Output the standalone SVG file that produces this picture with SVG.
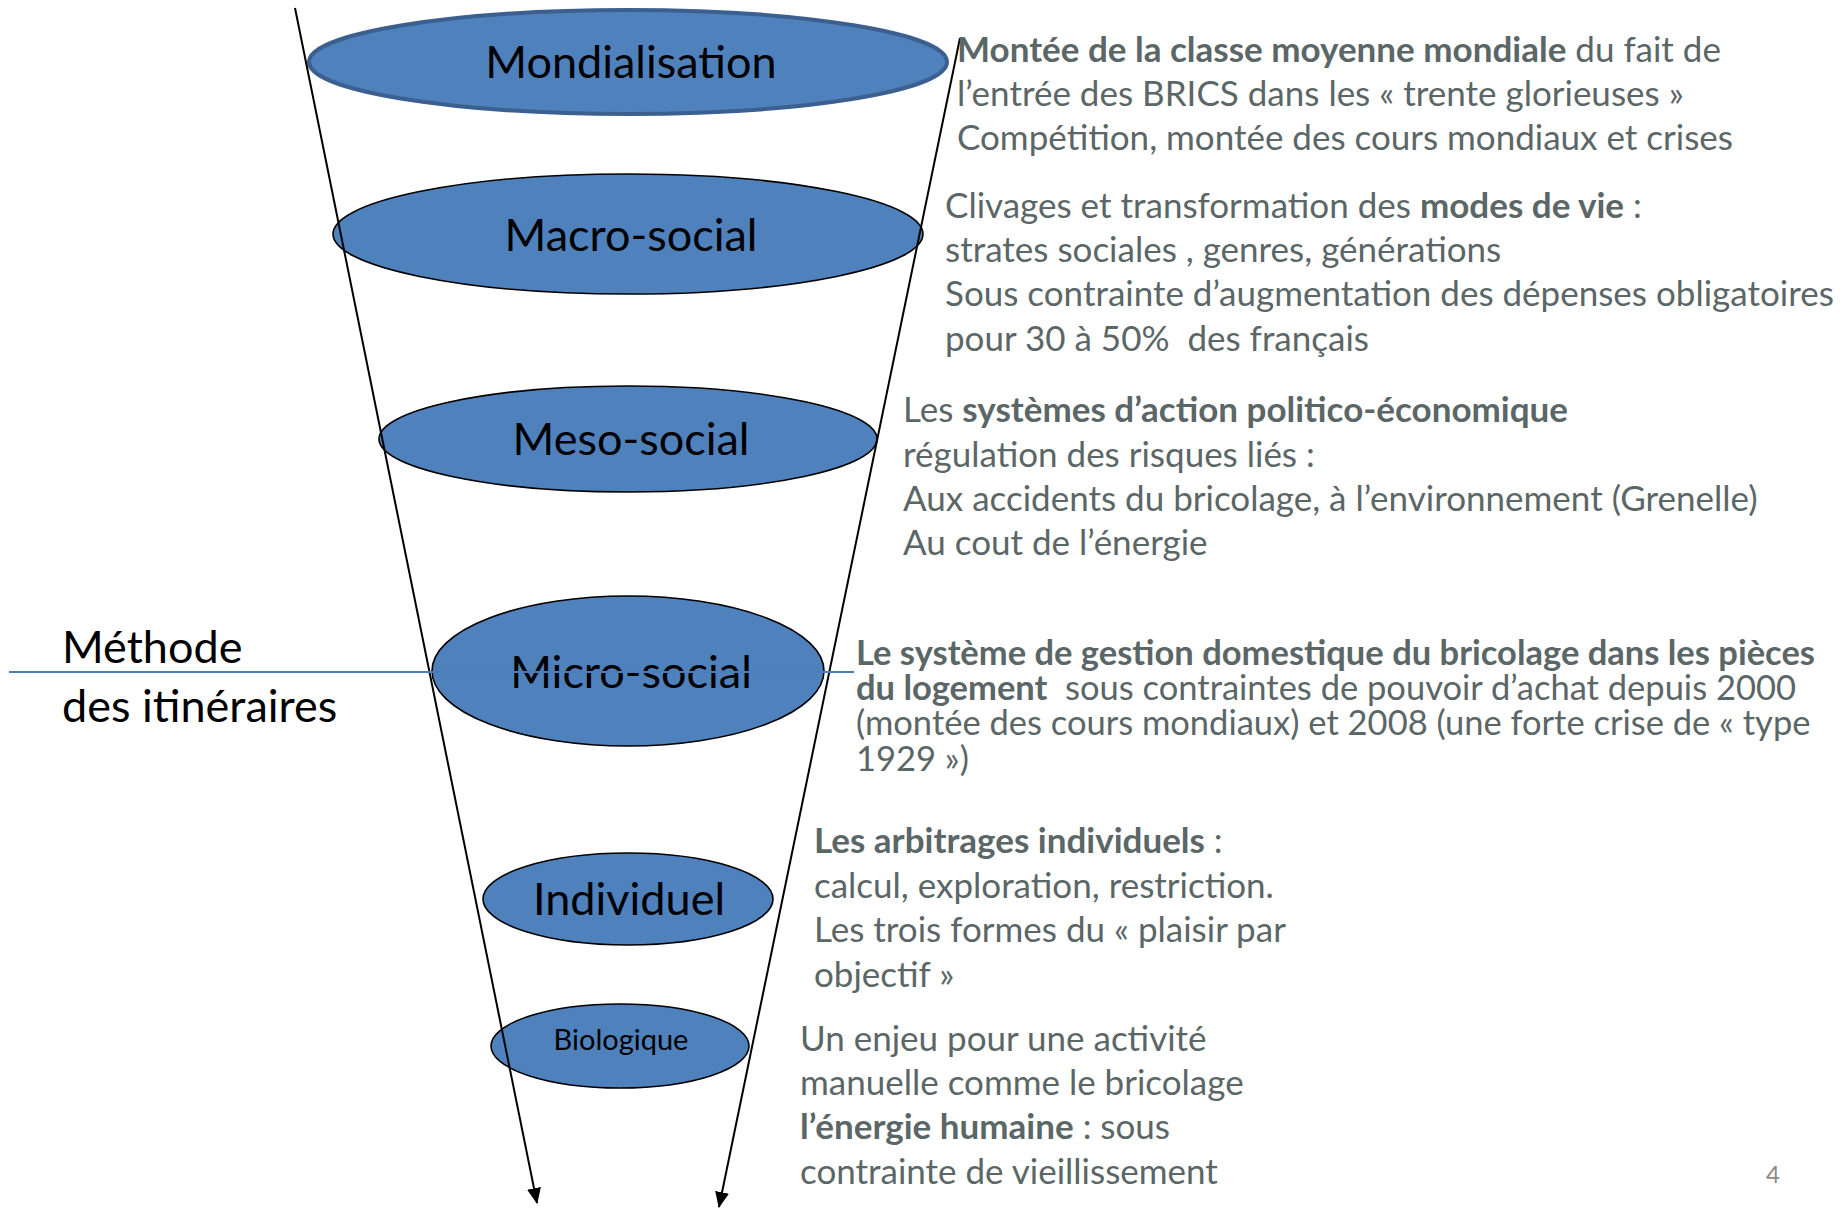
<svg xmlns="http://www.w3.org/2000/svg" width="1845" height="1209" viewBox="0 0 1845 1209">
<style>
.node{fill:#4f81bd;stroke:#000;stroke-width:1.6}
.node.top{stroke:#3b5f8e;stroke-width:4}
.lbl{font-family:Lato,"Liberation Sans",sans-serif;font-size:45px;fill:#000;text-anchor:middle}
.desc{font-family:Lato,"Liberation Sans",sans-serif;font-size:35px;fill:#5b6667}
.desc.sm{font-size:34.5px}
.b{font-weight:bold}
.side{font-family:Lato,"Liberation Sans",sans-serif;font-size:45px;fill:#000}
.conn{stroke:#000;stroke-width:2;fill:none}
</style>
<defs>
<marker id="arr" markerUnits="userSpaceOnUse" markerWidth="16" markerHeight="14" refX="15" refY="7" orient="auto">
<path d="M0,0 L16,7 L0,14 Z" fill="#000"/>
</marker>
</defs>
<rect width="1845" height="1209" fill="#fff"/>
<g id="n-mondialisation"><ellipse class="node top" cx="628" cy="62" rx="319" ry="52"/><text class="lbl" x="631" y="78">Mondialisation</text></g>
<g id="n-macro"><ellipse class="node" cx="628" cy="234" rx="295" ry="60"/><text class="lbl" x="631" y="251">Macro-social</text></g>
<g id="n-meso"><ellipse class="node" cx="628" cy="439" rx="249" ry="53"/><text class="lbl" x="631" y="455">Meso-social</text></g>
<g id="n-micro"><ellipse class="node" cx="628" cy="671" rx="196" ry="75"/><text class="lbl" x="631" y="688">Micro-social</text></g>
<g id="n-individuel"><ellipse class="node" cx="628" cy="899" rx="145" ry="46"/><text class="lbl" x="629" y="915">Individuel</text></g>
<g id="n-biologique"><ellipse class="node" cx="620" cy="1046" rx="129" ry="42"/><text class="lbl" x="621" y="1050" style="font-size:29px">Biologique</text></g>
<g id="connectors">
<line class="conn" x1="295" y1="8" x2="537" y2="1203" marker-end="url(#arr)"/>
<line class="conn" x1="960" y1="38" x2="719" y2="1207" marker-end="url(#arr)"/>
</g>
<g id="itineraires">
<line x1="9" y1="672" x2="854" y2="672" stroke="#4a7ebb" stroke-width="2"/>
<text class="side" x="62" y="663">Méthode</text>
<text class="side" x="62" y="722">des itinéraires</text>
</g>
<g id="t-mondialisation" class="desc">
<text x="957" y="62"><tspan class="b">Montée de la classe moyenne mondiale</tspan> du fait de</text>
<text x="957" y="106">l’entrée des BRICS dans les « trente glorieuses »</text>
<text x="957" y="150"> Compétition, montée des cours mondiaux et crises</text>
</g>
<g id="t-macro" class="desc">
<text x="945" y="218">Clivages et transformation des <tspan class="b">modes de vie</tspan> :</text>
<text x="945" y="262">strates sociales , genres, générations</text>
<text x="945" y="306">Sous contrainte d’augmentation des dépenses obligatoires</text>
<text x="945" y="351" xml:space="preserve">pour 30 à 50%  des français</text>
</g>
<g id="t-meso" class="desc">
<text x="903" y="422">Les <tspan class="b">systèmes d’action politico-économique</tspan></text>
<text x="903" y="467">régulation des risques liés :</text>
<text x="903" y="511">Aux accidents du bricolage, à l’environnement (Grenelle)</text>
<text x="903" y="555">Au cout de l’énergie</text>
</g>
<g id="t-micro" class="desc sm">
<text x="856" y="665" class="b">Le système de gestion domestique du bricolage dans les pièces</text>
<text x="856" y="700" xml:space="preserve"><tspan class="b">du logement</tspan>  sous contraintes de pouvoir d’achat depuis 2000</text>
<text x="856" y="735">(montée des cours mondiaux) et 2008 (une forte crise de « type</text>
<text x="856" y="771">1929 »)</text>
</g>
<g id="t-individuel" class="desc">
<text x="814" y="853"><tspan class="b">Les arbitrages individuels</tspan> :</text>
<text x="814" y="898">calcul, exploration, restriction.</text>
<text x="814" y="942">Les trois formes du « plaisir par</text>
<text x="814" y="987">objectif »</text>
</g>
<g id="t-biologique" class="desc">
<text x="800" y="1051">Un enjeu pour une activité</text>
<text x="800" y="1095">manuelle comme le bricolage</text>
<text x="800" y="1139"><tspan class="b">l’énergie humaine</tspan> : sous</text>
<text x="800" y="1184">contrainte de vieillissement</text>
</g>
<text x="1766" y="1183" class="desc" style="font-size:24px;fill:#8a8a8a">4</text>
</svg>
